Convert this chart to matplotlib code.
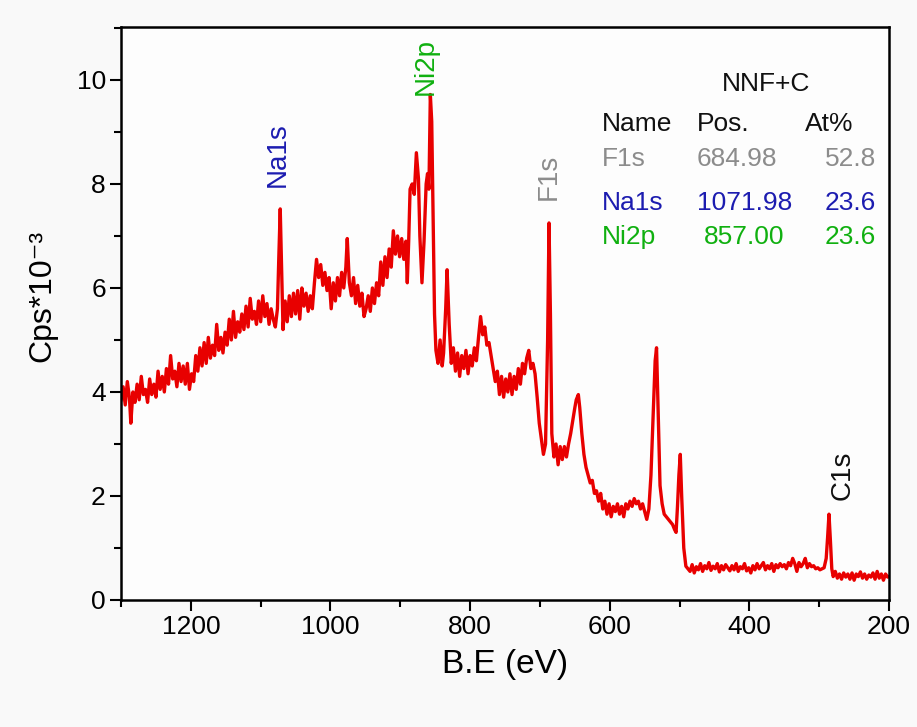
import numpy as np
import matplotlib.pyplot as plt
from matplotlib.ticker import MultipleLocator

plt.rcParams['font.family'] = ['Liberation Sans', 'DejaVu Sans']

# survey spectrum in pieces: binding energy (eV) and counts (Cps*10^-3)
# high BE background up to the Na1s line
be_a = [1300, 1297, 1294, 1291, 1288, 1286, 1283, 1280, 1277, 1274, 1271, 1268, 1265, 1262,
        1259, 1256, 1253, 1250, 1247, 1244, 1241, 1238, 1235, 1232, 1229, 1226, 1223, 1220,
        1217, 1214, 1211, 1208, 1205, 1202, 1199, 1196, 1193, 1190, 1187, 1184, 1181, 1178,
        1175, 1172, 1169, 1166, 1163, 1160, 1157, 1154, 1151, 1148, 1145, 1142, 1139, 1136,
        1133, 1130, 1127, 1124, 1121, 1118, 1115, 1112, 1109, 1106, 1103, 1100, 1097, 1094,
        1091, 1088, 1085, 1082, 1079]
cps_a = [3.85, 4.10, 3.75, 4.20, 3.90, 3.40, 4.00, 3.80, 4.15, 3.85, 4.30, 3.95, 4.05, 3.80,
         4.25, 3.95, 4.15, 3.90, 4.40, 4.05, 4.30, 4.00, 4.45, 4.15, 4.70, 4.25, 4.40, 4.10,
         4.55, 4.20, 4.50, 4.15, 4.55, 4.05, 4.35, 4.20, 4.70, 4.40, 4.85, 4.50, 4.95, 4.55,
         5.05, 4.65, 4.90, 4.70, 5.30, 4.80, 5.05, 4.75, 5.15, 4.90, 5.40, 5.00, 5.55, 5.05,
         5.35, 5.15, 5.50, 5.20, 5.65, 5.25, 5.80, 5.40, 5.55, 5.30, 5.75, 5.35, 5.85, 5.45,
         5.70, 5.30, 5.60, 5.40, 5.25]

# Na1s line and background up to the Ni2p doublet
be_b = [1076, 1074, 1072, 1070, 1068,
        1065, 1062, 1059, 1056, 1053, 1050, 1047, 1044, 1041, 1038, 1035, 1032, 1029, 1026,
        1023, 1020, 1017, 1014, 1011, 1008, 1005, 1002, 999, 996, 993, 990, 987, 984, 981,
        978, 976, 973, 970, 967, 964, 961, 958, 955, 952, 949, 946, 943, 940, 937, 934, 931,
        928, 925, 922, 919, 916, 913, 910, 907, 904, 901, 898, 895, 892, 890]
cps_b = [5.60, 6.60, 7.52, 6.40, 5.20,
         5.75, 5.35, 5.85, 5.45, 5.90, 5.50, 5.95, 5.40, 6.00, 5.65, 5.90, 5.55, 5.85, 5.60,
         6.10, 6.55, 6.20, 6.45, 6.05, 6.30, 5.95, 6.20, 5.60, 6.10, 5.75, 6.20, 5.85, 6.30, 6.00,
         6.40, 6.95, 6.10, 5.85, 6.20, 5.70, 6.05, 5.65, 5.90, 5.45, 5.60, 5.85, 5.55, 6.00, 5.70, 6.10, 5.85,
         6.50, 6.05, 6.60, 6.20, 6.75, 6.40, 7.10, 6.65, 7.00, 6.60, 6.95, 6.55, 6.90, 6.10]

# Ni2p doublet
be_c = [888, 886, 883, 880, 877, 874, 872, 869, 866, 863, 861, 859, 857, 855, 853, 851]
cps_c = [6.90, 7.90, 8.00, 7.80, 8.60, 8.10, 7.00, 6.10, 6.90, 8.00, 8.20, 7.90, 9.72, 9.20, 7.40, 5.50]

# Ni satellites, F1s, O1s region
be_d = [849, 846, 843, 840, 838, 835, 833, 830, 827, 824, 821, 818, 815, 812, 809, 806, 803,
        800, 797, 794, 791, 788, 785, 782, 779, 776, 773, 770, 767, 764, 761, 758, 755, 752,
        749, 746, 743, 740, 737, 734, 731, 728, 725, 722, 719, 716, 713, 710, 707, 704, 701,
        698, 695, 692, 689, 687, 685, 683, 680, 677, 674, 671, 668, 665, 662, 659, 656, 653,
        650, 648, 645, 643, 640, 637, 634, 631, 628, 625, 622, 619, 616, 613, 610, 607, 604,
        601, 598, 595, 592, 589, 586, 583, 580, 577, 574, 571, 568, 565, 562, 559, 556, 553,
        550, 547, 544, 541, 538, 535, 533, 531, 528, 525, 522, 519, 516, 513, 510, 507, 505,
        503, 501, 499, 497, 494, 491, 488]
cps_d = [4.80, 4.55, 5.00, 4.50, 4.75, 5.60, 6.35, 5.30, 4.55, 4.85, 4.40, 4.75, 4.30, 4.70, 4.45, 4.80, 4.35,
         4.70, 4.50, 4.85, 4.60, 5.05, 5.45, 5.10, 5.25, 4.90, 4.95, 4.70, 4.45, 4.20, 4.40, 3.95, 4.30, 3.90,
         4.25, 4.00, 4.35, 3.95, 4.30, 4.05, 4.45, 4.15, 4.55, 4.35, 4.65, 4.80, 4.45, 4.55, 4.35, 3.90, 3.40,
         3.10, 2.80, 3.00, 5.00, 7.25, 5.50, 3.20, 2.75, 3.00, 2.60, 2.95, 2.70, 2.95, 2.75, 3.00, 3.20, 3.45,
         3.70, 3.85, 3.95, 3.70, 3.20, 2.80, 2.55, 2.40, 2.25, 2.30, 2.05, 2.10, 1.90, 2.05, 1.75, 1.90, 1.65,
         1.85, 1.60, 1.80, 1.70, 1.85, 1.65, 1.80, 1.60, 1.85, 1.75, 1.90, 1.80, 1.95, 1.85, 1.90, 1.75, 1.85,
         1.70, 1.55, 1.75, 2.40, 3.50, 4.60, 4.85, 3.80, 2.20, 1.85, 1.65, 1.60, 1.55, 1.50, 1.45, 1.35, 1.30,
         1.80, 2.40, 2.80, 2.00, 1.00, 0.65, 0.60]

# low BE background with C1s
be_e = [485, 482, 479, 476, 473, 470, 467, 464, 461, 458, 455, 452, 449, 446, 443, 440, 437,
        434, 431, 428, 425, 422, 419, 416, 413, 410, 407, 404, 401, 398, 395, 392, 389, 386,
        383, 380, 377, 374, 371, 368, 365, 362, 359, 356, 353, 350, 347, 344, 341, 338, 335,
        332, 329, 326, 323, 320, 317, 314, 311, 308, 305, 302, 299, 296, 293, 290, 288, 286,
        284, 282, 280, 277, 274, 271, 268, 265, 262, 259, 256, 253, 250, 247, 244, 241, 238,
        235, 232, 229, 226, 223, 220, 217, 214, 211, 208, 205, 202, 200]
cps_e = [0.55, 0.68, 0.52, 0.64, 0.58, 0.70, 0.55, 0.66, 0.60, 0.72, 0.57, 0.65, 0.60, 0.70, 0.54, 0.66, 0.58,
         0.68, 0.62, 0.56, 0.66, 0.58, 0.70, 0.55, 0.64, 0.60, 0.70, 0.56, 0.62, 0.52, 0.66, 0.58, 0.70, 0.60,
         0.66, 0.72, 0.58, 0.66, 0.60, 0.70, 0.55, 0.68, 0.62, 0.70, 0.64, 0.68, 0.60, 0.72, 0.66, 0.80, 0.70,
         0.55, 0.72, 0.64, 0.70, 0.80, 0.62, 0.70, 0.64, 0.66, 0.60, 0.62, 0.58, 0.60, 0.62, 0.80, 1.20, 1.65,
         1.15, 0.60, 0.45, 0.55, 0.42, 0.50, 0.40, 0.52, 0.44, 0.50, 0.40, 0.52, 0.38, 0.50, 0.45, 0.54, 0.42,
         0.50, 0.40, 0.48, 0.44, 0.52, 0.40, 0.55, 0.42, 0.50, 0.38, 0.50, 0.44, 0.45]

be = be_a + be_b + be_c + be_d + be_e
cps = cps_a + cps_b + cps_c + cps_d + cps_e

# peak labels
peak_names = ['Na1s', 'Ni2p', 'F1s', 'C1s']
peak_pos = [1076, 864, 688, 266]
peak_y = [7.95, 9.72, 7.7, 1.93]
peak_colors = ['#1c1cb0', '#10b010', '#8c8c8c', '#111111']

# quantification table
tab_names = ['F1s', 'Na1s', 'Ni2p']
tab_pos = ['684.98', '1071.98', '857.00']
tab_at = ['52.8', '23.6', '23.6']
tab_colors = ['#8c8c8c', '#1c1cb0', '#10b010']

fig = plt.figure(figsize=(9.17, 7.27), dpi=100, facecolor='#f9f9f9')
ax = fig.add_axes([0.132, 0.1747, 0.8375, 0.7883])
ax.set_facecolor('#fdfdfd')

ax.plot(be, cps, color='#e80000', lw=2.4)

ax.set_xlim(1300, 200)
ax.set_ylim(0, 11.02)
ax.xaxis.set_major_locator(MultipleLocator(200))
ax.xaxis.set_minor_locator(MultipleLocator(100))
ax.yaxis.set_major_locator(MultipleLocator(2))
ax.yaxis.set_minor_locator(MultipleLocator(1))
ax.tick_params(which='major', direction='out', length=8, width=1.5, labelsize=19, pad=3)
ax.tick_params(which='minor', direction='out', length=5, width=1.5)
for s in ax.spines.values():
    s.set_linewidth(1.8)

ax.set_xlabel('B.E (eV)', fontsize=24, labelpad=7)
ax.set_ylabel('Cps*10⁻³', fontsize=23)
ax.yaxis.set_label_coords(-0.083, 0.53)

for name, x, y, c in zip(peak_names, peak_pos, peak_y, peak_colors):
    ax.text(x, y, name, rotation=90, color=c, fontsize=20, ha='center', va='bottom')

ft = fig.transFigure
ax.text(0.787, 0.875, 'NNF+C', transform=ft, fontsize=19, color='#111111')
ax.text(0.656, 0.820, 'Name', transform=ft, fontsize=19, color='#111111')
ax.text(0.760, 0.820, 'Pos.', transform=ft, fontsize=19, color='#111111')
ax.text(0.878, 0.820, 'At%', transform=ft, fontsize=19, color='#111111')
row_y = [0.772, 0.711, 0.664]
pos_x = [0.760, 0.760, 0.768]
for n, p, a, c, y, px in zip(tab_names, tab_pos, tab_at, tab_colors, row_y, pos_x):
    ax.text(0.656, y, n, transform=ft, fontsize=19, color=c)
    ax.text(px, y, p, transform=ft, fontsize=19, color=c)
    ax.text(0.955, y, a, transform=ft, fontsize=19, color=c, ha='right')

fig.savefig('out.png', dpi=100, facecolor=fig.get_facecolor())
